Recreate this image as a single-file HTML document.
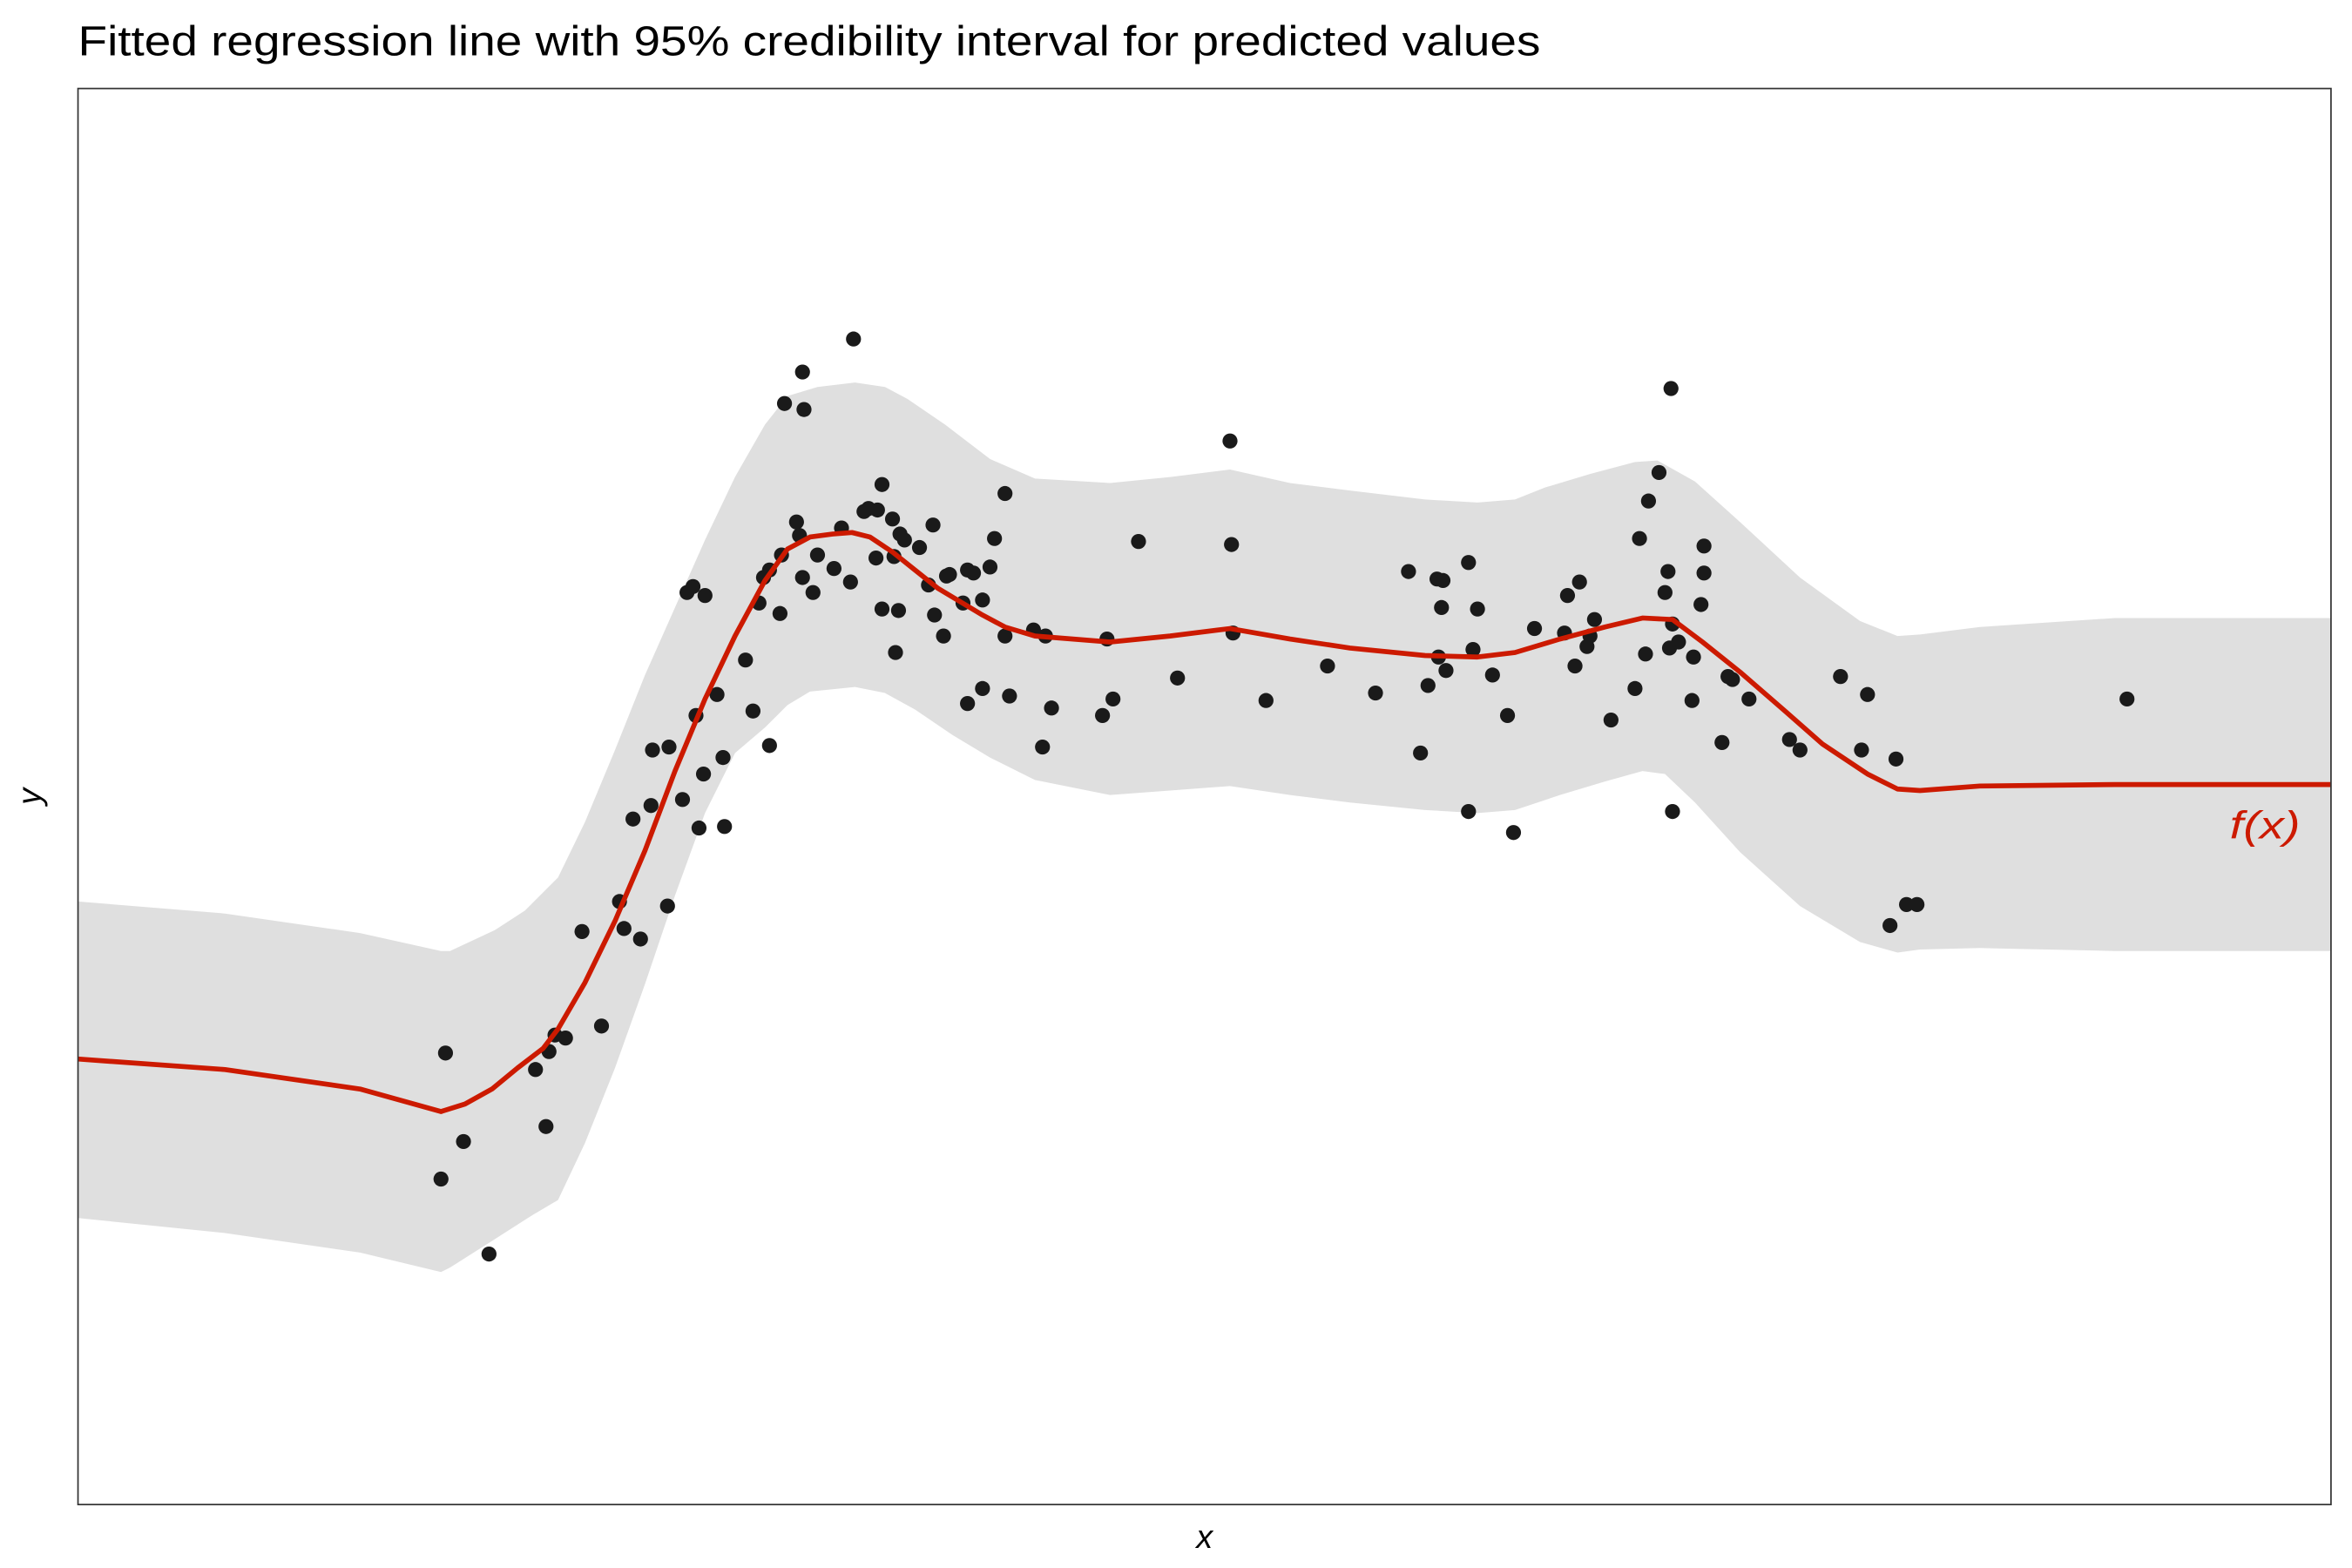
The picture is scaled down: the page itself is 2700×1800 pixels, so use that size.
<!DOCTYPE html>
<html><head><meta charset="utf-8"><style>
html,body{margin:0;padding:0;background:#fff;}
svg{display:block;}
text{font-family:"Liberation Sans",sans-serif;}
</style></head><body>
<svg id="chart" width="2700" height="1800" viewBox="0 0 1568 1045.3" preserveAspectRatio="none" xmlns="http://www.w3.org/2000/svg">
<rect width="1568" height="1045.3" fill="#fff"/>
<text x="52" y="37" font-size="28" fill="#000" textLength="975" lengthAdjust="spacingAndGlyphs">Fitted regression line with 95% credibility interval for predicted values</text>
<g id="plot"></g>
<rect x="52" y="59" width="1502" height="944" fill="none" stroke="#333" stroke-width="1"/>
<text x="803" y="1032" font-size="22" font-style="italic" text-anchor="middle">x</text>
<text transform="translate(27,531) rotate(-90)" font-size="22" font-style="italic" text-anchor="middle">y</text>
<text x="1510" y="559" font-size="26" font-style="italic" fill="#cc1a00" text-anchor="middle" textLength="47" lengthAdjust="spacingAndGlyphs">f(x)</text>
</svg>
<script>
const ptX=[245,242,257,274,305,312,314,318,325,336,349,361,364,375,370,382,383,394,393,403,406,410,418,414,412,417,426,430,431,445,450,454,457,461,461,468,469,471,479,481,483,484,483,490,493,504,509,515,517,524,527,532,533,536,536,543,544,545,547,548,551,561,567,570,571,577,579,581,590,593,593,597,603,603,608,611,618,618,621,637,643,645,649,683,686,690,707,733,768,769,770,792,833,865,887,895,900,906,910,909,907,912,927,927,930,933,943,953,957,971,991,993,998,1001,1006,1008,1011,1022,1038,1041,1045,1047,1054,1058,1060,1061,1062,1063,1063,1067,1076,1077,1082,1084,1084,1096,1100,1103,1114,1141,1148,1175,1189,1193,1208,1212,1219,1226,1366];
const ptY=[301,217,242,167,290,252,302,313,311,382,319,402,384,377,457,466,503,505,399,470,608,612,606,451,526,487,540,498,452,563,529,601,618,623,506,594,633,734,655,646,755,730,618,608,633,624,651,615,777,662,664,631,663,680,597,657,632,568,596,647,643,638,613,653,593,579,619,620,601,623,534,621,603,544,625,644,674,579,539,583,505,579,531,526,577,537,642,551,709,640,581,536,559,541,622,501,546,617,616,598,565,556,628,462,570,597,553,526,448,584,581,606,559,615,572,579,590,523,544,644,567,669,688,608,622,571,744,462,587,575,536,565,600,621,639,508,552,550,537,510,503,552,503,540,386,497,400,400,537];
const lineX=[0,98,188,242,258,276,293,310,320,338,358,378,398,418,438,458,473,488,503,516,528,543,558,573,588,603,618,638,688,728,768,808,848,898,933,958,988,1018,1043,1063,1083,1108,1138,1163,1193,1213,1228,1268,1358,1502];
const lineY=[297,290,277,262,267,277,291,304,317,348,389,436,489,537,579,616,637,645,647,648,645,635,623,611,602,593,585,579,575,579,584,577,571,566,565,568,577,585,591,590,575,555,529,507,487,477,476,479,480,480];
const upX=[0,98,188,242,248,278,298,320,338,358,378,398,418,438,458,473,493,518,538,553,578,608,638,688,728,768,808,848,898,933,958,978,1008,1038,1053,1078,1108,1148,1188,1213,1228,1268,1358,1502];
const upY=[402,394,381,369,369,383,396,418,455,503,553,598,643,685,720,739,745,748,745,737,720,697,684,681,685,690,681,676,670,668,670,678,687,695,696,682,655,618,589,579,580,585,591,591];
const loX=[0,98,188,242,248,278,303,320,338,358,378,398,418,438,458,473,488,518,538,558,583,608,638,688,728,768,808,848,898,933,958,988,1018,1043,1058,1078,1108,1148,1188,1213,1228,1268,1358,1502];
const loY=[191,181,168,155,158,177,193,203,241,291,347,406,461,501,518,533,542,545,541,530,513,498,483,473,476,479,473,468,463,461,463,473,482,489,487,468,435,399,375,368,370,371,369,369];
const xDomain=[0,1502], yDomain=[0,944];
function sx(v){return 52+(v-xDomain[0])/(xDomain[1]-xDomain[0])*1502;}
function sy(v){return 1003-(v-yDomain[0])/(yDomain[1]-yDomain[0])*944;}
const NS="http://www.w3.org/2000/svg";
const g=document.getElementById('plot');
let d='M'+upX.map((x,i)=>sx(x)+','+sy(upY[i])).join(' L');
for(let i=loX.length-1;i>=0;i--) d+=' L'+sx(loX[i])+','+sy(loY[i]);
d+=' Z';
const band=document.createElementNS(NS,'path');
band.setAttribute('d',d);band.setAttribute('fill','#dfdfdf');


g.appendChild(band);
ptX.forEach((x,i)=>{
 const c=document.createElementNS(NS,'circle');
 c.setAttribute('cx',sx(x));c.setAttribute('cy',sy(ptY[i]));c.setAttribute('r',5);c.setAttribute('fill','#1a1a1a');
 
 
 g.appendChild(c);
});
const ln=document.createElementNS(NS,'path');
ln.setAttribute('d','M'+lineX.map((x,i)=>sx(x)+','+sy(lineY[i])).join(' L'));
ln.setAttribute('fill','none');ln.setAttribute('stroke','#cc1a00');ln.setAttribute('stroke-width','3.3');ln.setAttribute('stroke-linejoin','round');


g.appendChild(ln);
</script>
</body></html>
